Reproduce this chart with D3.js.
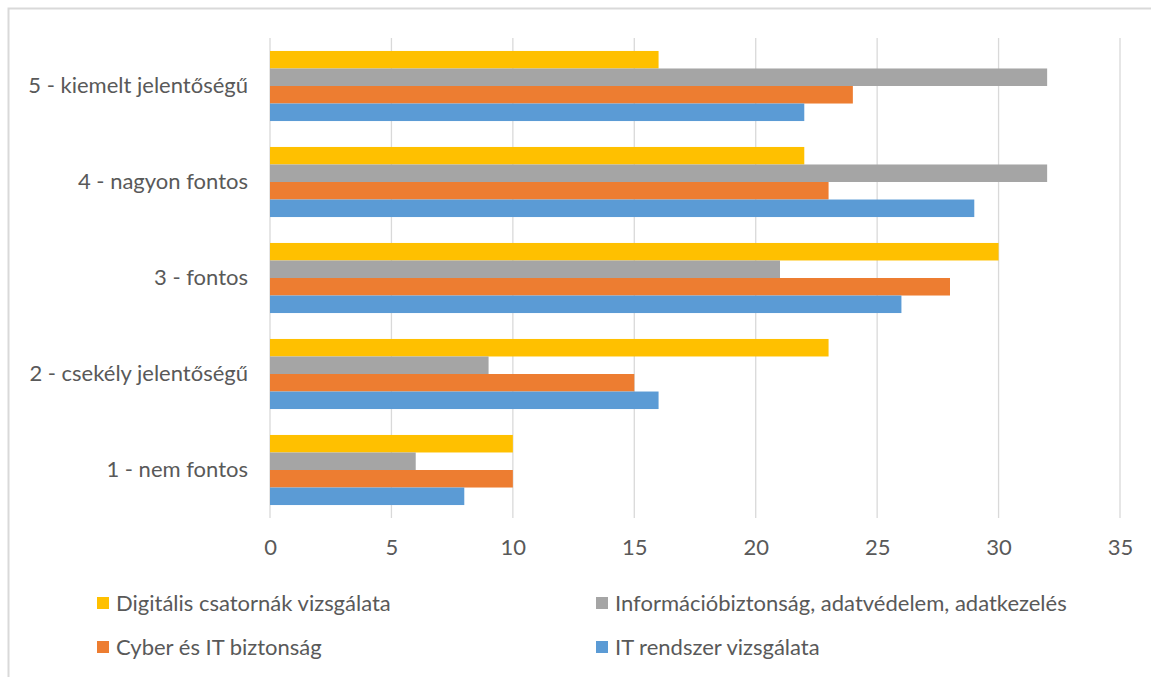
<!DOCTYPE html>
<html><head><meta charset="utf-8">
<script src="https://cdn.jsdelivr.net/npm/d3@7"></script>
<style>
html,body{margin:0;padding:0;background:#fff;}
svg{display:block;}
text{font-family:"Lato","Open Sans",sans-serif;fill:#595959;}
</style></head>
<body>
<svg id="chart" width="1151" height="677"></svg>
<script>
const categories = ["5 - kiemelt jelentőségű","4 - nagyon fontos","3 - fontos","2 - csekély jelentőségű","1 - nem fontos"];
const seriesNames = ["Digitális csatornák vizsgálata","Információbiztonság, adatvédelem, adatkezelés","Cyber és IT biztonság","IT rendszer vizsgálata"];
const seriesColors = ["#FFC000","#A5A5A5","#ED7D31","#5B9BD5"];
const digitalis = [16,22,30,23,10];
const informacio = [32,32,21,9,6];
const cyber = [24,23,28,15,10];
const itRendszer = [22,29,26,16,8];
const xTicks = [0,5,10,15,20,25,30,35];

const seriesValues = [digitalis, informacio, cyber, itRendszer];
const svg = d3.select("#chart");

svg.append("rect").attr("x",8.5).attr("y",8.5).attr("width",1200).attr("height",700)
  .attr("fill","#fff").attr("stroke","#D9D9D9").attr("stroke-width",2);

const pLeft = 270, pRight = 1120, pTop = 38, pBottom = 518;
const x = d3.scaleLinear().domain([0,35]).range([pLeft,pRight]);
const y = d3.scaleBand().domain(categories).range([pTop,pBottom]).paddingInner(0.27).paddingOuter(0.135);
const ySub = d3.scaleBand().domain(d3.range(4)).range([0,y.bandwidth()]);

// gridlines
svg.append("g").selectAll("line").data(xTicks).join("line")
  .attr("x1",d=>x(d)).attr("x2",d=>x(d)).attr("y1",pTop).attr("y2",pBottom)
  .attr("stroke","#D9D9D9").attr("stroke-width",1.3);

// bars
const groups = svg.append("g").selectAll("g").data(categories).join("g")
  .attr("transform",c=>`translate(0,${y(c)})`);
groups.selectAll("rect").data((c,i)=>seriesValues.map((s,k)=>({k,v:s[i]}))).join("rect")
  .attr("x",x(0)).attr("y",d=>ySub(d.k)).attr("height",ySub.bandwidth())
  .attr("width",d=>x(d.v)-x(0)).attr("fill",d=>seriesColors[d.k]);

// x axis
const xAxis = svg.append("g").attr("transform",`translate(0,${pBottom})`)
  .call(d3.axisBottom(x).tickValues(xTicks).tickSize(0).tickPadding(21));
xAxis.select(".domain").remove();
xAxis.selectAll("text").style("font-size","22px").attr("fill","#595959");

// y axis
const yAxis = svg.append("g").attr("transform",`translate(${pLeft},0)`)
  .call(d3.axisLeft(y).tickSize(0).tickPadding(22));
yAxis.select(".domain").remove();
yAxis.selectAll("text").style("font-size","22px").attr("fill","#595959");

// legend
const legendPos = [[97,603],[596,603],[97,647],[596,647]];
const lg = svg.append("g").selectAll("g").data(seriesNames).join("g")
  .attr("transform",(d,i)=>`translate(${legendPos[i][0]},${legendPos[i][1]})`);
lg.append("rect").attr("x",0).attr("y",-6).attr("width",12).attr("height",12)
  .attr("fill",(d,i)=>seriesColors[i]);
lg.append("text").attr("x",19).attr("y",0).attr("dy","0.35em").style("font-size","22px").text(d=>d);
</script>
</body></html>
